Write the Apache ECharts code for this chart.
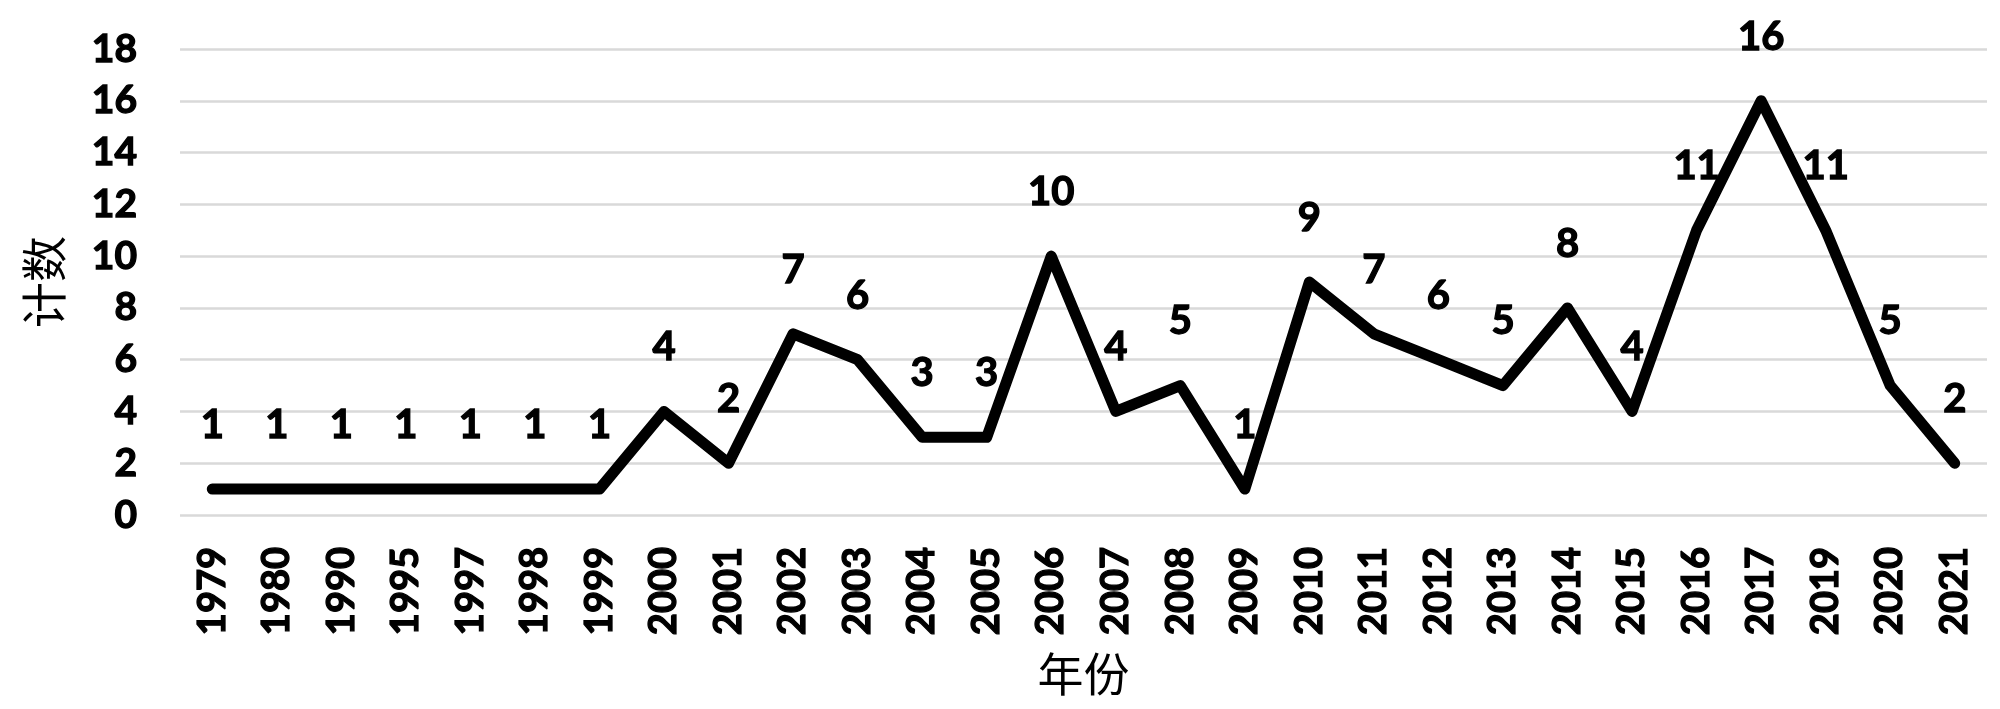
<!DOCTYPE html>
<html>
<head>
<meta charset="utf-8">
<script src="https://cdn.jsdelivr.net/npm/echarts@6/dist/echarts.min.js"></script>
<style>
html,body{margin:0;padding:0;background:#fff;}
#chart{width:2000px;height:709px;}
</style>
</head>
<body>
<div id="chart"></div>
<script>
var years = ['1979','1980','1990','1995','1997','1998','1999','2000','2001','2002','2003','2004','2005','2006','2007','2008','2009','2010','2011','2012','2013','2014','2015','2016','2017','2019','2020','2021'];
var counts = [1,1,1,1,1,1,1,4,2,7,6,3,3,10,4,5,1,9,7,6,5,8,4,11,16,11,5,2];
var xAxisName = '年份';
var yAxisName = '计数';
var yMin = 0, yMax = 18, yStep = 2;

var chart = echarts.init(document.getElementById('chart'), null, {renderer: 'canvas'});
var latinFont = 'Lato, "Noto Sans", sans-serif';
var cjkFont = '"Noto Sans CJK SC", sans-serif';
var heavy = {textBorderColor: '#000', textBorderWidth: 1.3};
chart.setOption({
  animation: false,
  backgroundColor: '#ffffff',
  grid: {left: 180, right: 13, top: 49, bottom: 194, containLabel: false, outerBoundsMode: 'none'},
  xAxis: {
    type: 'category',
    data: years,
    boundaryGap: true,
    name: xAxisName,
    nameLocation: 'middle',
    nameGap: 136,
    nameTextStyle: {fontFamily: cjkFont, fontSize: 46, color: '#000', fontWeight: 'normal'},
    axisLine: {show: false},
    axisTick: {show: false},
    axisLabel: Object.assign({interval: 0, rotate: 90, margin: 32, fontFamily: latinFont, fontWeight: 'bold', fontSize: 38, color: '#000'}, heavy)
  },
  yAxis: {
    type: 'value',
    min: yMin, max: yMax, interval: yStep,
    name: yAxisName,
    nameLocation: 'middle',
    nameGap: 113,
    nameTextStyle: {fontFamily: cjkFont, fontSize: 46, color: '#000', fontWeight: 'normal'},
    axisLine: {show: false},
    axisTick: {show: false},
    axisLabel: Object.assign({margin: 43, fontFamily: latinFont, fontWeight: 'bold', fontSize: 39, color: '#000'}, heavy),
    splitLine: {show: true, lineStyle: {color: '#d9d9d9', width: 2.5}}
  },
  series: [{
    type: 'line',
    data: counts,
    symbol: 'circle',
    symbolSize: 0.1,
    itemStyle: {color: '#000'},
    lineStyle: {color: '#000', width: 11, cap: 'round', join: 'round'},
    label: Object.assign({show: true, position: 'top', distance: 44, fontFamily: latinFont, fontWeight: 'bold', fontSize: 40, color: '#000'}, heavy)
  }]
});
</script>
</body>
</html>
